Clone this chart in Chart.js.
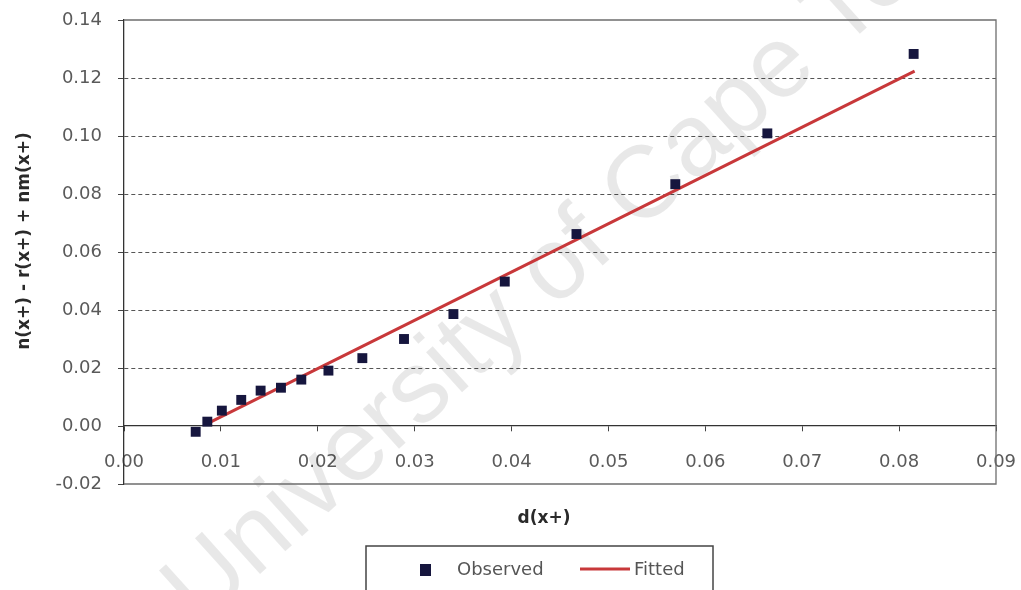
<!DOCTYPE html>
<html>
<head>
<meta charset="utf-8">
<title>Observed vs fitted</title>
<script src="https://cdn.jsdelivr.net/npm/chart.js@4.4.1/dist/chart.umd.min.js"></script>
<style>
  html, body { margin: 0; padding: 0; background: #fff; }
  #wrap { width: 1021px; height: 590px; position: relative; }
</style>
</head>
<body>
<div id="wrap"><canvas id="fitChart"></canvas></div>
<script>
// observed points
const obsX = [0.0074, 0.0086, 0.0101, 0.0121, 0.0141, 0.0162, 0.0183, 0.0211,
              0.0246, 0.0289, 0.0340, 0.0393, 0.0467, 0.0569, 0.0664, 0.0815];
const obsY = [-0.0020, 0.0015, 0.0053, 0.0090, 0.0122, 0.0132, 0.0160, 0.0191,
              0.0234, 0.0300, 0.0386, 0.0498, 0.0662, 0.0834, 0.1009, 0.1283];

// fitted straight line, its two ends
const fitX = [0.0086, 0.0816];
const fitY = [0.0008, 0.1224];

// axis ticks
const xTicks = [0, 0.01, 0.02, 0.03, 0.04, 0.05, 0.06, 0.07, 0.08, 0.09];
const yTicks = [-0.02, 0, 0.02, 0.04, 0.06, 0.08, 0.10, 0.12, 0.14];

const seriesNames = ['Observed', 'Fitted'];
const xTitle = 'd(x+)';
const yTitle = 'n(x+) - r(x+) + nm(x+)';
const watermark = 'University of Cape Town';

const tickFont = { family: '"DejaVu Sans", sans-serif', size: 18 };

//grid lines on the frame edges and on zero are drawn solid elsewhere
function isEdge(v) {
    return Math.abs(v - yTicks[0]) < 1e-9 ||
           Math.abs(v - yTicks[yTicks.length - 1]) < 1e-9 ||
           Math.abs(v) < 1e-9;
}

//let layout.padding alone decide where the plot area sits
function dropPadding(scale) {
    scale.paddingTop = 0;
    scale.paddingBottom = 0;
    scale.paddingLeft = 0;
    scale.paddingRight = 0;
}

const framePlugin = {
    id: 'frame',
    beforeDatasetsDraw(chart) {
        const { ctx, chartArea: a } = chart;

        //faint watermark across the plot
        ctx.save();
        ctx.translate(200, 628);
        ctx.rotate(-42 * Math.PI / 180);
        ctx.font = '102px "Liberation Sans", Arial, sans-serif';
        ctx.fillStyle = 'rgba(0,0,0,0.09)';
        ctx.textBaseline = 'alphabetic';
        ctx.fillText(watermark, 0, 0);
        ctx.restore();

        //top, right and bottom edges of the plot frame
        ctx.save();
        ctx.strokeStyle = '#6e6e6e';
        ctx.lineWidth = 1.3;
        ctx.beginPath();
        ctx.moveTo(a.left, a.top);
        ctx.lineTo(a.right, a.top);
        ctx.lineTo(a.right, a.bottom);
        ctx.lineTo(a.left, a.bottom);
        ctx.stroke();
        ctx.restore();
    },
    afterDraw(chart) {
        const { ctx } = chart;
        const obs = chart.data.datasets[0];
        const fit = chart.data.datasets[1];

        //axis titles
        ctx.save();
        ctx.fillStyle = '#2a2a2a';
        ctx.font = 'bold 17px "DejaVu Sans", sans-serif';
        ctx.textAlign = 'center';
        ctx.textBaseline = 'middle';
        ctx.fillText(xTitle, 544, 519);
        ctx.translate(25, 241);
        ctx.rotate(-Math.PI / 2);
        ctx.fillText(yTitle, 0, 0);
        ctx.restore();

        //boxed legend under the chart
        ctx.save();
        ctx.strokeStyle = '#444';
        ctx.lineWidth = 1.5;
        ctx.strokeRect(366, 546, 347, 60);
        ctx.fillStyle = obs.backgroundColor;
        ctx.fillRect(420, 564, 11, 12);
        ctx.strokeStyle = fit.borderColor;
        ctx.lineWidth = 3;
        ctx.beginPath();
        ctx.moveTo(580, 569);
        ctx.lineTo(630, 569);
        ctx.stroke();
        ctx.fillStyle = '#555';
        ctx.font = '18px "DejaVu Sans", sans-serif';
        ctx.textAlign = 'left';
        ctx.textBaseline = 'middle';
        ctx.fillText(obs.label, 457, 570);
        ctx.fillText(fit.label, 634, 570);
        ctx.restore();
    }
};

const ctx = document.getElementById('fitChart').getContext('2d');
new Chart(ctx, {
    type: 'scatter',
    data: {
        datasets: [
            {
                label: seriesNames[0],
                data: obsX.map((x, i) => ({ x: x, y: obsY[i] })),
                pointStyle: 'rect',
                pointRadius: 7,
                pointHoverRadius: 7,
                backgroundColor: '#16163e',
                borderColor: '#16163e',
                borderWidth: 0,
                order: 0
            },
            {
                label: seriesNames[1],
                data: fitX.map((x, i) => ({ x: x, y: fitY[i] })),
                showLine: true,
                borderColor: '#c8383a',
                borderWidth: 3,
                pointRadius: 0,
                pointHoverRadius: 0,
                order: 1
            }
        ]
    },
    options: {
        responsive: true,
        maintainAspectRatio: false,
        animation: false,
        layout: { padding: { top: 20, right: 25, bottom: 106, left: 0 } },
        plugins: {
            legend: { display: false },
            tooltip: { enabled: false }
        },
        scales: {
            x: {
                type: 'linear',
                position: { y: 0 },
                min: xTicks[0],
                max: xTicks[xTicks.length - 1],
                afterBuildTicks: scale => { scale.ticks = xTicks.map(v => ({ value: v })); },
                afterFit: dropPadding,
                ticks: {
                    callback: v => v.toFixed(2),
                    font: tickFont,
                    color: '#5a5a5a',
                    padding: 21,
                    maxRotation: 0,
                    autoSkip: false
                },
                grid: {
                    drawOnChartArea: false,
                    drawTicks: true,
                    tickLength: 5,
                    tickColor: '#444'
                },
                border: { display: true, color: '#333', width: 1.3 }
            },
            y: {
                type: 'linear',
                min: yTicks[0],
                max: yTicks[yTicks.length - 1],
                afterBuildTicks: scale => { scale.ticks = yTicks.map(v => ({ value: v })); },
                afterFit: scale => { dropPadding(scale); scale.width = 124; },
                ticks: {
                    callback: v => v.toFixed(2),
                    font: tickFont,
                    color: '#5a5a5a',
                    padding: 16
                },
                grid: {
                    color: c => (c.tick && isEdge(c.tick.value)) ? 'rgba(0,0,0,0)' : '#555',
                    lineWidth: 1,
                    tickLength: 6,
                    tickColor: '#444'
                },
                border: { display: true, color: '#333', width: 1.3, dash: [4, 3] }
            }
        }
    },
    plugins: [framePlugin]
});
</script>
</body>
</html>
